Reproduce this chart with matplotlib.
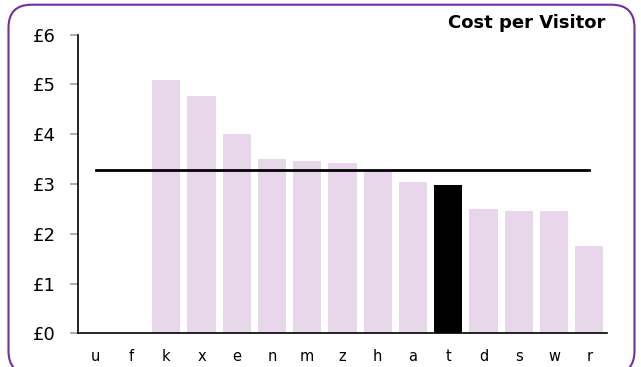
import matplotlib
matplotlib.use("Agg")
import matplotlib.pyplot as plt
from matplotlib.patches import FancyBboxPatch
from matplotlib.transforms import IdentityTransform

categories = ["u", "f", "k", "x", "e", "n", "m", "z", "h", "a", "t", "d", "s", "w", "r"]
values = [0, 0, 5.09, 4.77, 4.00, 3.50, 3.47, 3.43, 3.26, 3.04, 2.97, 2.49, 2.46, 2.45, 1.75]
highlight = "t"
average = 3.29
yticks = [0, 1, 2, 3, 4, 5, 6]
ytick_labels = ["£0", "£1", "£2", "£3", "£4", "£5", "£6"]
title = "Cost per Visitor"

W, H = 641, 367
fig = plt.figure(figsize=(W / 100, H / 100), dpi=100)
plt.rcParams['font.family'] = ['DejaVu Sans']

# rounded frame (pixel coordinates, origin bottom-left)
frame = FancyBboxPatch((8.5, -7), 626, H - 4.7 + 7,
                       boxstyle="round,pad=0,rounding_size=23",
                       transform=IdentityTransform(), facecolor="none",
                       edgecolor="#7030A0", linewidth=1.5, clip_on=False)
fig.patches.append(frame)

ax = fig.add_axes([78 / W, (H - 333.3) / H, (607 - 78) / W, (333.3 - 34.7) / H])
x = list(range(len(categories)))
colors = ["#000000" if c == highlight else "#E8D6EA" for c in categories]
ax.bar(x, values, width=0.8, color=colors, zorder=2)
ax.plot([x[0], x[-1]], [average, average], color="#000000", linewidth=2.0, zorder=3)

ax.set_xlim(-0.5, len(categories) - 0.5)
ax.set_ylim(0, 6)
ax.set_yticks(yticks)
ax.set_yticklabels(ytick_labels, fontsize=13)
ax.set_xticks(x)
ax.set_xticklabels(categories, fontsize=10.5)
ax.tick_params(axis="y", length=6, color="#A0A0A0", width=1.2, pad=10)
ax.tick_params(axis="x", length=0, pad=11)
for s in ["top", "right"]:
    ax.spines[s].set_visible(False)
ax.spines["left"].set_linewidth(1.2)
ax.spines["bottom"].set_linewidth(1.2)

fig.text(605 / W, 1 - 23.5 / H, title, ha="right", va="center",
         fontsize=13, fontweight="bold")

fig.savefig("out.png", dpi=100)
